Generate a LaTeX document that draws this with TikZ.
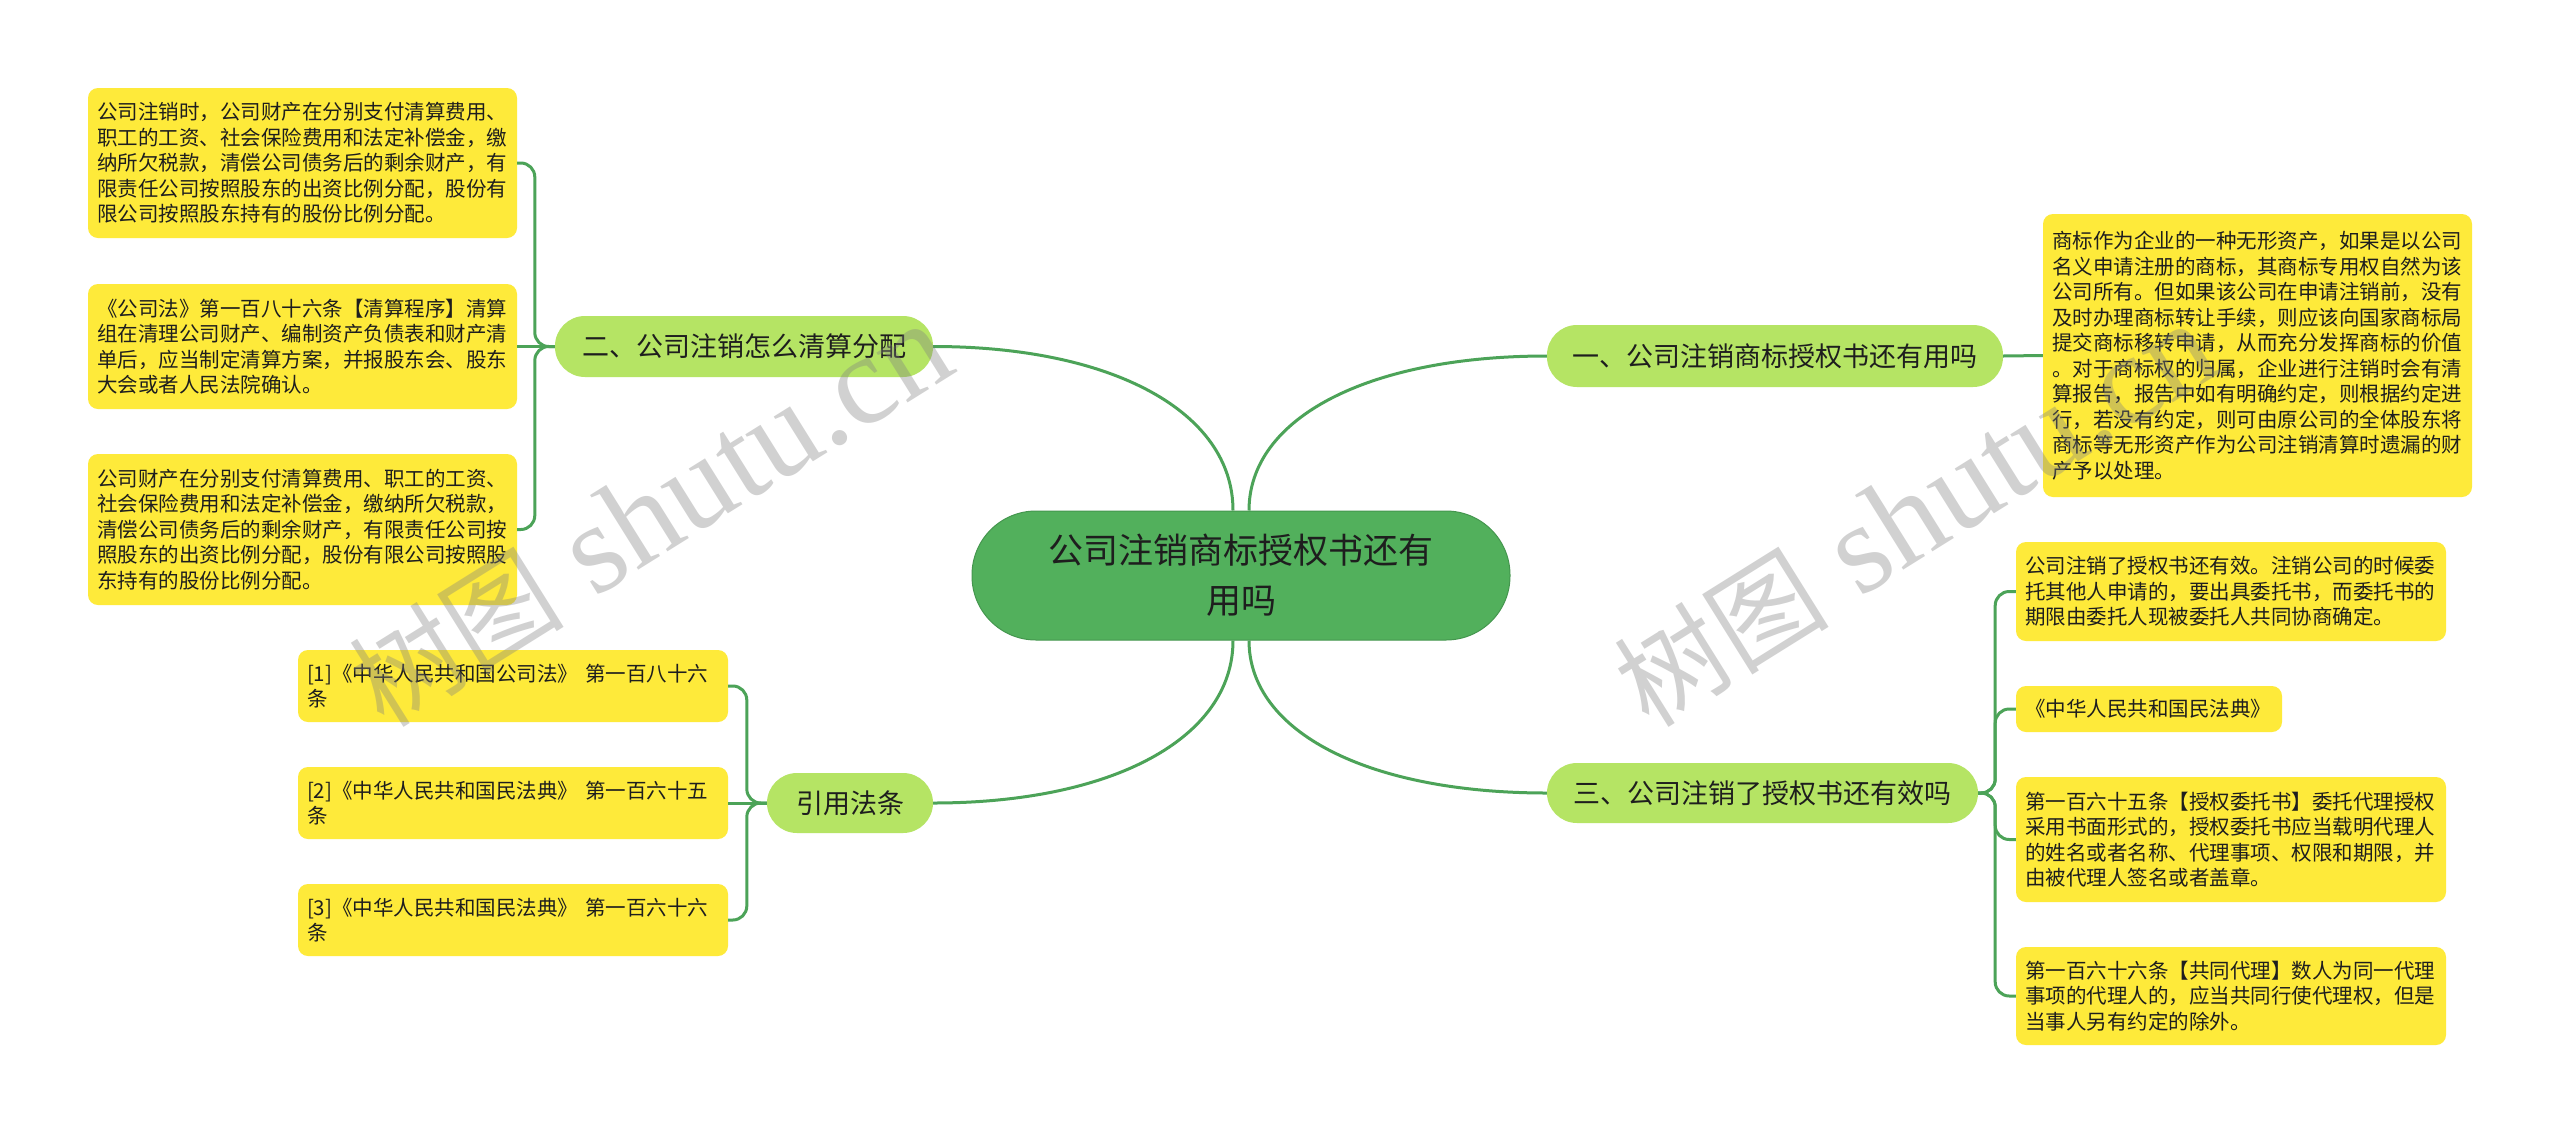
\documentclass[tikz,border=0pt]{standalone}
\usepackage{fontspec}
\setmainfont{Noto Sans CJK SC}
\newfontfamily\wmlatin{Liberation Serif}
\usetikzlibrary{calc}
\definecolor{linegreen}{RGB}{76,163,88}
\definecolor{rootfill}{RGB}{82,176,92}
\definecolor{rootdraw}{RGB}{68,150,78}
\definecolor{branchfill}{RGB}{181,228,100}
\definecolor{leaffill}{RGB}{254,234,58}
\definecolor{txt}{RGB}{30,30,30}
\begin{document}
\begin{tikzpicture}[x=1pt,y=-1pt,
  conn/.style={draw=linegreen, line width=3pt},
  leaf/.style={fill=leaffill, rounded corners=10pt, inner xsep=9pt, inner ysep=0pt, align=left, text=txt, font=\fontsize{20.5pt}{25.5pt}\selectfont, anchor=center},
  branch/.style={fill=branchfill, rounded corners=30pt, inner sep=0pt, text=txt, font=\fontsize{27pt}{34pt}\selectfont},
  root/.style={fill=rootfill, draw=rootdraw, line width=1pt, rounded corners=64pt, inner sep=0pt, align=center, text=txt, font=\fontsize{35pt}{50pt}\selectfont},
  wm/.style={text=gray, opacity=0.36, rotate=32, inner sep=0pt}
]
\fill[white] (0,0) rectangle (2560,1133);
\useasboundingbox (0,0) rectangle (2560,1133);

% root
\node[root, minimum width=538pt, minimum height=129pt] (c) at (1241,575.5) {公司注销商标授权书还有\\用吗};

% branches
\node[branch, minimum width=456pt, minimum height=62pt] (b1) at (1775,356) {一、公司注销商标授权书还有用吗};
\node[branch, minimum width=378pt, minimum height=61pt] (b2) at (744,346.5) {二、公司注销怎么清算分配};
\node[branch, minimum width=431pt, minimum height=60pt] (b3) at (1762.5,793) {三、公司注销了授权书还有效吗};
\node[branch, minimum width=166pt, minimum height=60pt] (b4) at (850,803) {引用法条};

% left leaves
\node[leaf, text width=411pt, minimum height=150pt] (l1) at (302.5,163) {公司注销时，公司财产在分别支付清算费用、\\职工的工资、社会保险费用和法定补偿金，缴\\纳所欠税款，清偿公司债务后的剩余财产，有\\限责任公司按照股东的出资比例分配，股份有\\限公司按照股东持有的股份比例分配。};
\node[leaf, text width=411pt, minimum height=125pt] (l2) at (302.5,346.5) {《公司法》第一百八十六条【清算程序】清算\\组在清理公司财产、编制资产负债表和财产清\\单后，应当制定清算方案，并报股东会、股东\\大会或者人民法院确认。};
\node[leaf, text width=411pt, minimum height=151pt] (l3) at (302.5,529.5) {公司财产在分别支付清算费用、职工的工资、\\社会保险费用和法定补偿金，缴纳所欠税款，\\清偿公司债务后的剩余财产，有限责任公司按\\照股东的出资比例分配，股份有限公司按照股\\东持有的股份比例分配。};

% right leaves
\node[leaf, text width=411pt, minimum height=283pt] (r1) at (2257.5,355.5) {商标作为企业的一种无形资产，如果是以公司\\名义申请注册的商标，其商标专用权自然为该\\公司所有。但如果该公司在申请注销前，没有\\及时办理商标转让手续，则应该向国家商标局\\提交商标移转申请，从而充分发挥商标的价值\\。对于商标权的归属，企业进行注销时会有清\\算报告，报告中如有明确约定，则根据约定进\\行，若没有约定，则可由原公司的全体股东将\\商标等无形资产作为公司注销清算时遗漏的财\\产予以处理。};
\node[leaf, text width=412pt, minimum height=99pt] (r2) at (2231,591.5) {公司注销了授权书还有效。注销公司的时候委\\托其他人申请的，要出具委托书，而委托书的\\期限由委托人现被委托人共同协商确定。};
\node[leaf, text width=248pt, minimum height=46pt] (r3) at (2149,709) {《中华人民共和国民法典》};
\node[leaf, text width=412pt, minimum height=125pt] (r4) at (2231,839.5) {第一百六十五条【授权委托书】委托代理授权\\采用书面形式的，授权委托书应当载明代理人\\的姓名或者名称、代理事项、权限和期限，并\\由被代理人签名或者盖章。};
\node[leaf, text width=412pt, minimum height=98pt] (r5) at (2231,996) {第一百六十六条【共同代理】数人为同一代理\\事项的代理人的，应当共同行使代理权，但是\\当事人另有约定的除外。};

% references
\node[leaf, text width=412pt, minimum height=72pt] (f1) at (513,686) {[1]《中华人民共和国公司法》 第一百八十六\\条};
\node[leaf, text width=412pt, minimum height=72pt] (f2) at (513,803) {[2]《中华人民共和国民法典》 第一百六十五\\条};
\node[leaf, text width=412pt, minimum height=72pt] (f3) at (513,920) {[3]《中华人民共和国民法典》 第一百六十六\\条};

% root to branches
\coordinate (ctl) at ($(c.north)+(-8,0)$);
\coordinate (ctr) at ($(c.north)+(8,0)$);
\coordinate (cbl) at ($(c.south)+(-8,0)$);
\coordinate (cbr) at ($(c.south)+(8,0)$);
\draw[conn] (ctr) .. controls ($(ctr)!0.6!(ctr |- b1.west)$) and ($(b1.west)!0.6!(ctr |- b1.west)$) .. (b1.west);
\draw[conn] (ctl) .. controls ($(ctl)!0.6!(ctl |- b2.east)$) and ($(b2.east)!0.6!(ctl |- b2.east)$) .. (b2.east);
\draw[conn] (cbr) .. controls ($(cbr)!0.6!(cbr |- b3.west)$) and ($(b3.west)!0.6!(cbr |- b3.west)$) .. (b3.west);
\draw[conn] (cbl) .. controls ($(cbl)!0.6!(cbl |- b4.east)$) and ($(b4.east)!0.6!(cbl |- b4.east)$) .. (b4.east);

% brackets
\draw[conn] (b1.east) -- (r1.west);
\draw[conn, rounded corners=14pt] (b2.west) -- ++(-20,0) |- (l1.east);
\draw[conn] (b2.west) -- (l2.east);
\draw[conn, rounded corners=14pt] (b2.west) -- ++(-20,0) |- (l3.east);
\draw[conn, rounded corners=14pt] (b3.east) -- ++(17,0) |- (r2.west);
\draw[conn, rounded corners=14pt] (b3.east) -- ++(17,0) |- (r3.west);
\draw[conn, rounded corners=14pt] (b3.east) -- ++(17,0) |- (r4.west);
\draw[conn, rounded corners=14pt] (b3.east) -- ++(17,0) |- (r5.west);
\draw[conn, rounded corners=14pt] (b4.west) -- ++(-20,0) |- (f1.east);
\draw[conn] (b4.west) -- (f2.east);
\draw[conn, rounded corners=14pt] (b4.west) -- ++(-20,0) |- (f3.east);

% watermarks
\node[wm] (wm1) at (650,515) {{\fontsize{108pt}{108pt}\selectfont 树图}\hspace{32pt}{\wmlatin\fontsize{128pt}{128pt}\selectfont shutu.cn}};
\node[wm] (wm2) at (1915,515) {{\fontsize{108pt}{108pt}\selectfont 树图}\hspace{32pt}{\wmlatin\fontsize{128pt}{128pt}\selectfont shutu.cn}};
\end{tikzpicture}
\end{document}
